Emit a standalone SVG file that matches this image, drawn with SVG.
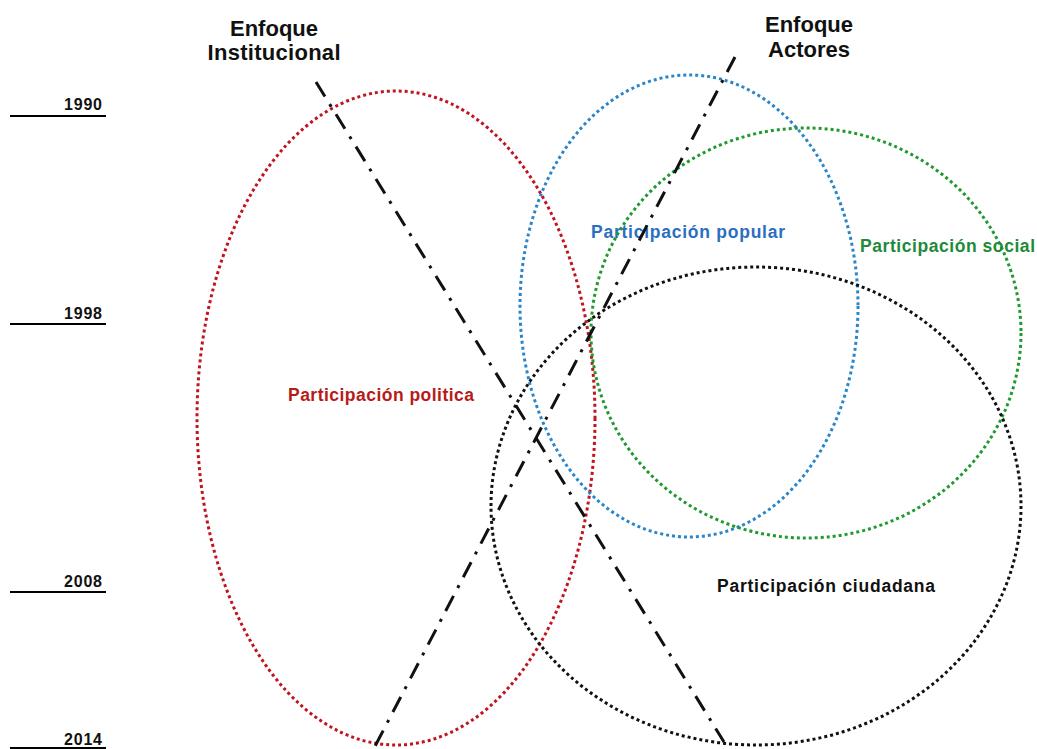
<svg xmlns="http://www.w3.org/2000/svg" width="1037" height="749" viewBox="0 0 1037 749">
  <style>
    .ring { fill: none; stroke-width: 3; stroke-dasharray: 3 3; }
    .axis { fill: none; stroke: #111; stroke-width: 3; stroke-dasharray: 17 9 3 9; }
    .tick { stroke: #000; stroke-width: 2; }
    .year { font-family: "Liberation Sans", Arial, sans-serif; font-weight: bold; font-size: 16px; fill: #111; text-anchor: end; }
    .head { font-family: "Liberation Sans", Arial, sans-serif; font-weight: bold; font-size: 22px; fill: #111; text-anchor: middle; }
    .lbl { font-family: "Liberation Sans", Arial, sans-serif; font-weight: bold; font-size: 17.5px; }
  </style>
  <rect width="1037" height="749" fill="#fff"/>

  <!-- timeline -->
  <g id="timeline">
    <line class="tick" x1="10" y1="116" x2="106" y2="116"/>
    <text class="year" x="102" y="110" textLength="38">1990</text>
    <line class="tick" x1="10" y1="324" x2="106" y2="324"/>
    <text class="year" x="102" y="319" textLength="38">1998</text>
    <line class="tick" x1="10" y1="592" x2="106" y2="592"/>
    <text class="year" x="102" y="587" textLength="38">2008</text>
    <line class="tick" x1="10" y1="748" x2="106" y2="748"/>
    <text class="year" x="102" y="745" textLength="38">2014</text>
  </g>

  <!-- participation sets -->
  <g id="politica">
    <ellipse class="ring" stroke="#c0141e" cx="396" cy="418" rx="199" ry="327"/>
    <text class="lbl" fill="#b81a1a" x="288" y="401" textLength="186">Participación politica</text>
  </g>
  <g id="popular">
    <ellipse class="ring" stroke="#2a86c8" cx="689" cy="306" rx="169" ry="231"/>
    <text class="lbl" fill="#2a6fc0" x="591" y="238" textLength="194">Participación popular</text>
  </g>
  <g id="social">
    <ellipse class="ring" stroke="#1e9a2e" cx="806" cy="333" rx="215" ry="205"/>
    <text class="lbl" fill="#1e8a3a" x="860" y="252" textLength="175">Participación social</text>
  </g>
  <g id="ciudadana">
    <ellipse class="ring" stroke="#111" cx="756" cy="506" rx="265" ry="239"/>
    <text class="lbl" fill="#111" x="717" y="592" textLength="218">Participación ciudadana</text>
  </g>

  <!-- approach axes -->
  <g id="connectors">
    <line class="axis" x1="316" y1="82" x2="724" y2="742"/>
    <line class="axis" x1="735" y1="57" x2="372" y2="752"/>
  </g>

  <g id="enfoque-institucional">
    <text class="head" x="274" y="36">Enfoque</text>
    <text class="head" x="274" y="60" textLength="133">Institucional</text>
  </g>
  <g id="enfoque-actores">
    <text class="head" x="809" y="32">Enfoque</text>
    <text class="head" x="809" y="57">Actores</text>
  </g>
</svg>
